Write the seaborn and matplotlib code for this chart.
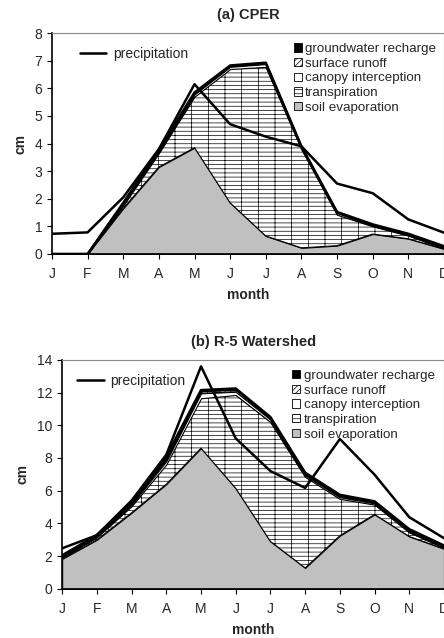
import matplotlib
matplotlib.use("Agg")
import matplotlib.pyplot as plt
import matplotlib.patches as mpatches
import matplotlib.lines as mlines
import numpy as np
import pandas as pd
import seaborn as sns

months = ["J", "F", "M", "A", "M", "J", "J", "A", "S", "O", "N", "D"]

# (a) CPER, cm per month
cper_precip = [0.73, 0.78, 2.05, 3.8, 6.15, 4.7, 4.25, 3.9, 2.55, 2.2, 1.25, 0.77]
cper_soil = [0, 0, 1.65, 3.15, 3.85, 1.85, 0.65, 0.22, 0.30, 0.72, 0.55, 0.18]
cper_transp = [0, 0, 0.10, 0.50, 1.85, 4.85, 6.13, 3.58, 1.12, 0.28, 0.11, 0.02]
cper_canopy = [0, 0, 0.05, 0.07, 0.08, 0.08, 0.10, 0.05, 0.06, 0.03, 0.03, 0.04]
cper_runoff = [0, 0, 0.02, 0.03, 0.04, 0.02, 0.02, 0.03, 0.02, 0.02, 0.02, 0.02]
cper_gw = [0, 0, 0.03, 0.03, 0.03, 0.03, 0.03, 0.02, 0.02, 0.02, 0.02, 0.02]

# (b) R-5 Watershed
r5_precip = [2.48, 3.28, 5.4, 8.2, 13.6, 9.2, 7.2, 6.17, 9.16, 6.98, 4.38, 3.1]
r5_soil = [1.83, 3.0, 4.65, 6.4, 8.6, 6.15, 2.9, 1.28, 3.25, 4.55, 3.2, 2.45]
r5_transp = [0.07, 0.15, 0.40, 1.20, 3.05, 5.70, 7.30, 5.57, 2.25, 0.60, 0.25, 0.05]
r5_canopy = [0.05, 0.05, 0.10, 0.20, 0.30, 0.20, 0.15, 0.10, 0.10, 0.08, 0.08, 0.05]
r5_runoff = [0.05, 0.05, 0.08, 0.15, 0.12, 0.12, 0.08, 0.08, 0.08, 0.07, 0.07, 0.05]
r5_gw = [0.05, 0.05, 0.07, 0.15, 0.08, 0.08, 0.07, 0.07, 0.07, 0.05, 0.05, 0.05]

layer_names = ["soil evaporation", "transpiration", "canopy interception",
               "surface runoff", "groundwater recharge"]

sns.set_style("ticks")
plt.rcParams["font.family"] = ["Liberation Sans", "DejaVu Sans"]
plt.rcParams["hatch.color"] = "black"
plt.rcParams["hatch.linewidth"] = 0.5

# face colour, hatch for each layer
styles = {
    "soil evaporation": ("#c0c0c0", None),
    "transpiration": ("white", "----|"),
    "canopy interception": ("white", None),
    "surface runoff": ("white", "//////"),
    "groundwater recharge": ("black", None),
}

FS = 10


def draw_panel(ax, title, precip, layers, ymax, ystep):
    x = np.arange(len(months))
    df = pd.DataFrame({"x": x, "precip": precip})
    base = np.zeros(len(months))
    for name, vals in zip(layer_names, layers):
        top = base + np.array(vals)
        face, hatch = styles[name]
        ax.fill_between(x, base, top, facecolor=face, hatch=hatch,
                        edgecolor="black", linewidth=0.8, zorder=2)
        base = top
    ax.plot(x, base, color="black", linewidth=1.8, zorder=3)
    sns.lineplot(data=df, x="x", y="precip", ax=ax, color="black",
                 linewidth=1.8, zorder=4)

    ax.set_xlim(0, 11)
    ax.set_ylim(0, ymax)
    ax.set_xticks(x)
    ax.set_xticklabels(months)
    ax.set_yticks(np.arange(0, ymax + 0.01, ystep))
    ax.tick_params(labelsize=FS, length=3.5, width=0.8, direction="out", color="black")
    ax.tick_params(axis="x", pad=6)
    ax.set_xlabel("month", fontsize=FS, fontweight="bold", labelpad=5)
    ax.set_ylabel("cm", fontsize=FS, fontweight="bold", labelpad=5)
    ax.set_title(title, fontsize=10.5, fontweight="bold", pad=10)
    for s in ["top", "right"]:
        ax.spines[s].set_color("#888888")
        ax.spines[s].set_linewidth(0.8)
    for s in ["left", "bottom"]:
        ax.spines[s].set_color("black")
        ax.spines[s].set_linewidth(1.2)


def add_legends(ax, line_anchor, patch_anchor):
    line_h = mlines.Line2D([], [], color="black", linewidth=1.8)
    leg1 = ax.legend([line_h], ["precipitation"], loc="upper left",
                     bbox_to_anchor=line_anchor, frameon=False, fontsize=FS,
                     borderpad=0, handlelength=1.9, handletextpad=0.45)
    ax.add_artist(leg1)
    handles = []
    for name in layer_names[::-1]:
        face, hatch = styles[name]
        handles.append(mpatches.Patch(facecolor=face, edgecolor="black",
                                      hatch=hatch, linewidth=0.6))
    ax.legend(handles, layer_names[::-1], loc="upper left",
              bbox_to_anchor=patch_anchor, frameon=False, fontsize=9.6,
              borderpad=0, handlelength=0.6, handleheight=0.6,
              handletextpad=0.25, labelspacing=0.2)


fig = plt.figure(figsize=(4.44, 6.38), dpi=100)

ax1 = fig.add_axes([0.117, 0.602, 0.883, 0.346])
draw_panel(ax1, "(a) CPER", cper_precip,
           [cper_soil, cper_transp, cper_canopy, cper_runoff, cper_gw], 8, 1)
add_legends(ax1, (0.054, 0.97), (0.6, 0.985))

ax2 = fig.add_axes([0.140, 0.077, 0.860, 0.359])
draw_panel(ax2, "(b) R-5 Watershed", r5_precip,
           [r5_soil, r5_transp, r5_canopy, r5_runoff, r5_gw], 14, 2)
add_legends(ax2, (0.021, 0.97), (0.585, 0.985))

fig.savefig("out.png", dpi=100)
